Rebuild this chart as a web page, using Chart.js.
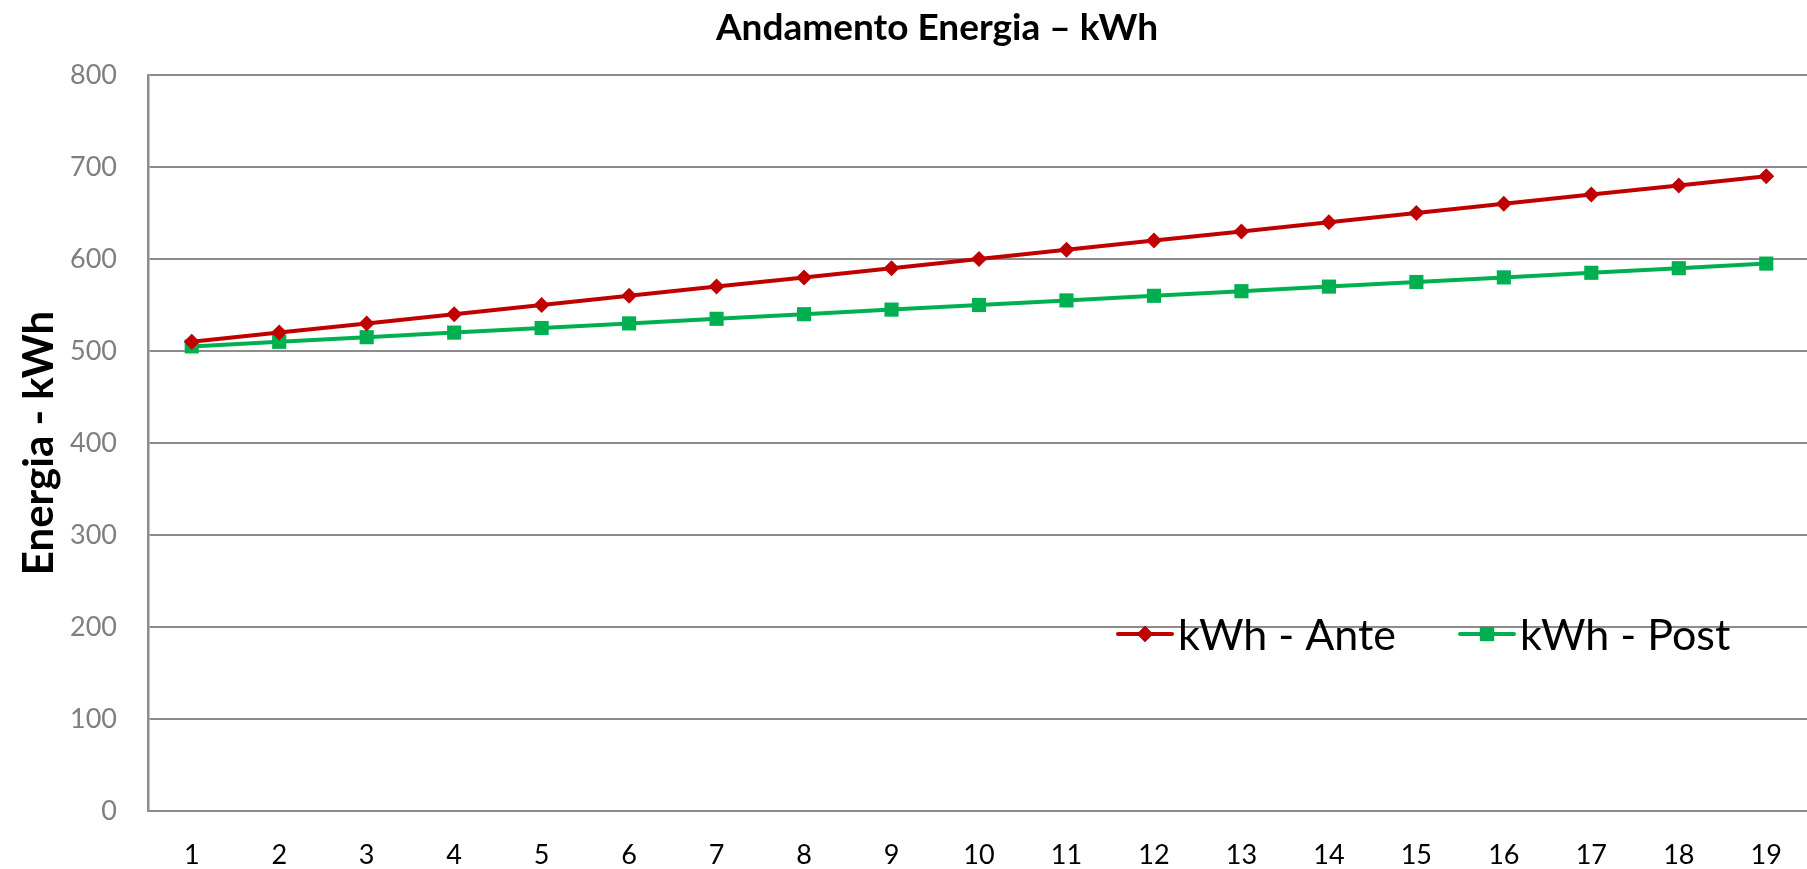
<!DOCTYPE html>
<html>
<head>
<meta charset="utf-8">
<script src="https://cdn.jsdelivr.net/npm/chart.js@4.4.1/dist/chart.umd.min.js"></script>
<style>
  html, body { margin: 0; padding: 0; background: #ffffff; overflow: hidden; }
  #wrap { width: 1807px; height: 869px; overflow: hidden; }
  canvas { display: block; }
</style>
</head>
<body>
<div id="wrap"><canvas id="chart" width="1820" height="869"></canvas></div>
<script>
// Periods on the x axis
const categories = ['1','2','3','4','5','6','7','8','9','10','11','12','13','14','15','16','17','18','19'];
// Energy consumption before the intervention (kWh)
const kwhAnte = [510, 520, 530, 540, 550, 560, 570, 580, 590, 600, 610, 620, 630, 640, 650, 660, 670, 680, 690];
// Energy consumption after the intervention (kWh)
const kwhPost = [505, 510, 515, 520, 525, 530, 535, 540, 545, 550, 555, 560, 565, 570, 575, 580, 585, 590, 595];
// Value axis range
const yMin = 0, yMax = 800, yStep = 100;

const FONT = 'Lato, "Open Sans", "DejaVu Sans", sans-serif';
const RED = '#C00000';
const GREEN = '#00B050';
const GRID = '#8c8c8c';

// Chart heading, drawn at a fixed spot above the plot
const heading = {
  id: 'heading',
  afterDraw(chart, args, opts) {
    const ctx = chart.ctx;
    ctx.save();
    ctx.fillStyle = '#000000';
    ctx.font = 'bold ' + opts.fontSize + 'px ' + FONT;
    ctx.textAlign = 'center';
    ctx.textBaseline = 'middle';
    ctx.fillText(opts.text, opts.x, opts.y);
    ctx.restore();
  }
};

// Legend drawn inside the plot area, as line + marker + label
const innerLegend = {
  id: 'innerLegend',
  afterDatasetsDraw(chart, args, opts) {
    const ctx = chart.ctx;
    ctx.save();
    let x = opts.x;
    const y = opts.y;
    chart.data.datasets.forEach((ds, i) => {
      ctx.strokeStyle = ds.borderColor;
      ctx.lineWidth = 4;
      ctx.lineCap = 'round';
      ctx.beginPath();
      ctx.moveTo(x, y);
      ctx.lineTo(x + opts.lineLen, y);
      ctx.stroke();
      Chart.helpers.drawPoint(ctx, {
        pointStyle: ds.pointStyle,
        radius: ds.pointRadius,
        rotation: 0,
        borderWidth: 0
      }, x + opts.lineLen / 2, y);
      ctx.fillStyle = ds.pointBackgroundColor;
      ctx.fill();
      ctx.fillStyle = '#000000';
      ctx.font = opts.fontSize + 'px ' + FONT;
      ctx.textBaseline = 'middle';
      ctx.textAlign = 'left';
      ctx.fillText(ds.label, x + opts.lineLen + 6, y + 2);
      x += opts.itemGap[i];
    });
    ctx.restore();
  }
};

new Chart(document.getElementById('chart'), {
  type: 'line',
  data: {
    labels: categories,
    datasets: [
      {
        label: 'kWh - Ante',
        data: kwhAnte,
        borderColor: RED,
        backgroundColor: RED,
        pointBackgroundColor: RED,
        pointBorderColor: RED,
        pointStyle: 'rectRot',
        pointRadius: 8,
        pointBorderWidth: 0,
        borderWidth: 4,
        tension: 0
      },
      {
        label: 'kWh - Post',
        data: kwhPost,
        borderColor: GREEN,
        backgroundColor: GREEN,
        pointBackgroundColor: GREEN,
        pointBorderColor: GREEN,
        pointStyle: 'rect',
        pointRadius: 10,
        pointBorderWidth: 0,
        borderWidth: 4,
        tension: 0
      }
    ]
  },
  options: {
    responsive: false,
    animation: false,
    devicePixelRatio: 1,
    layout: { padding: { left: 0, right: 7, top: 75, bottom: 0 } },
    plugins: {
      legend: { display: false },
      tooltip: { enabled: false },
      title: { display: false },
      heading: { text: 'Andamento Energia – kWh', x: 937, y: 28, fontSize: 37 },
      innerLegend: {
        x: 1118, y: 634, lineLen: 54, fontSize: 43,
        itemGap: [342, 0]
      }
    },
    scales: {
      x: {
        offset: true,
        grid: { display: false, drawTicks: false },
        border: { display: true, color: GRID, width: 2 },
        ticks: {
          color: '#000000',
          font: { family: FONT, size: 27 },
          padding: 28,
          maxRotation: 0,
          autoSkip: false
        },
        afterFit(scale) { scale.height = 58; }
      },
      y: {
        min: yMin,
        max: yMax,
        grid: { color: GRID, lineWidth: 2, drawTicks: false },
        border: { display: true, color: GRID, width: 2.5 },
        ticks: {
          stepSize: yStep,
          color: '#7f7f7f',
          font: { family: FONT, size: 27 },
          padding: 31
        },
        title: {
          display: true,
          text: 'Energia - kWh',
          color: '#000000',
          font: { family: FONT, size: 42, weight: 'bold' },
          padding: { top: 14, bottom: 0 }
        },
        afterFit(scale) { scale.width = 148; }
      }
    }
  },
  plugins: [heading, innerLegend]
});
</script>
</body>
</html>
